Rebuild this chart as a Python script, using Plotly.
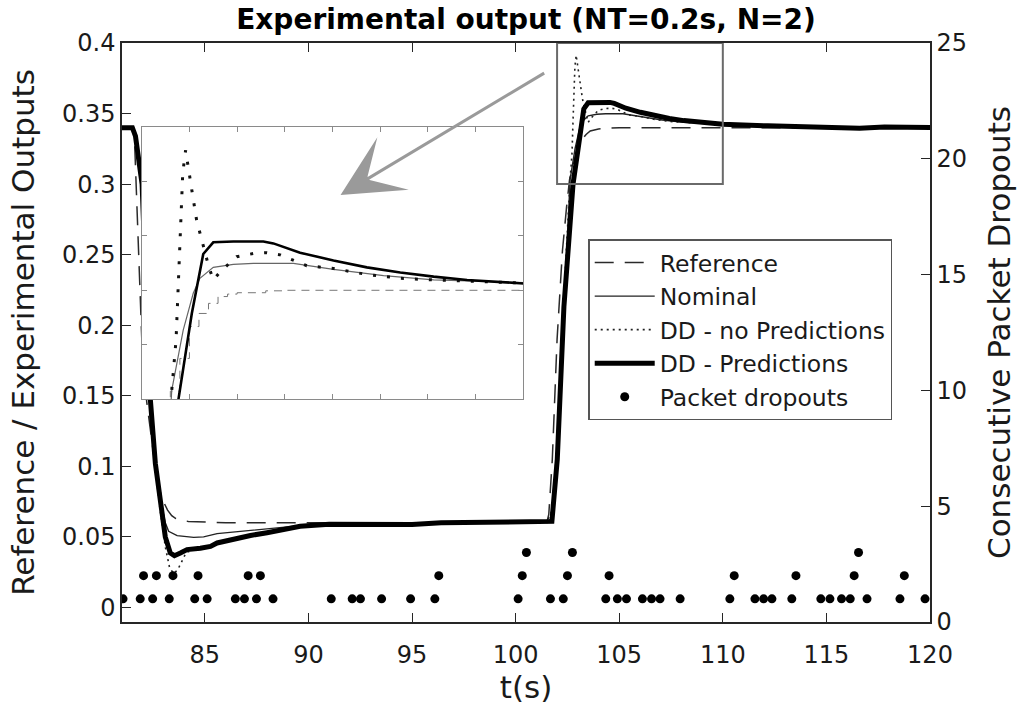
import plotly.graph_objects as go

# ---------------- data ----------------
ref_t = [81.0, 81.55, 81.6, 81.7, 81.8, 81.9, 82.0, 82.2, 82.4, 82.6, 82.8, 83.0, 83.2, 83.4,
         83.6, 83.8, 84.2, 85.0, 86.0, 90.0, 95.0, 100.0, 101.5, 101.6, 101.77, 102.0, 102.26,
         102.46, 102.6, 102.8, 103.0, 103.2, 103.4, 103.6, 103.8, 104.0, 104.6, 105.0, 110.0, 120.0]
ref_y = [0.340, 0.340, 0.333, 0.290, 0.250, 0.205, 0.172, 0.145, 0.122, 0.100, 0.084, 0.075,
         0.069, 0.065, 0.063, 0.062, 0.061, 0.0605, 0.060, 0.060, 0.060, 0.060, 0.060, 0.066,
         0.105, 0.190, 0.253, 0.284, 0.303, 0.315, 0.3267, 0.3315, 0.3352, 0.3377, 0.3386,
         0.3391, 0.3398, 0.340, 0.340, 0.340]

nom_t = [81.0, 81.5, 81.65, 81.8, 81.97, 82.37, 82.61, 82.85, 83.09, 83.25, 83.66, 84.46, 84.94,
         85.59, 87.2, 89.6, 91.0, 93.0, 95.0, 96.4, 98.5, 101.5, 101.75, 102.01, 102.33, 102.63,
         102.87, 103.08, 103.22, 103.5, 103.92, 104.34, 105.18, 106.02, 107.07, 108.12, 110.0,
         112.16, 115.38, 116.6, 117.8, 120.0]
nom_y = [0.340, 0.340, 0.333, 0.316, 0.298, 0.150, 0.104, 0.077, 0.060, 0.054, 0.0509, 0.0497,
         0.0500, 0.0523, 0.0546, 0.0580, 0.0590, 0.0589, 0.0588, 0.0600, 0.0605, 0.0605, 0.063,
         0.110, 0.215, 0.3034, 0.3254, 0.3389, 0.3444, 0.3484, 0.3495, 0.3499, 0.3499, 0.3477,
         0.3454, 0.3438, 0.3425, 0.3413, 0.3402, 0.3396, 0.3404, 0.3401]

ddnp_t = [81.0, 81.5, 81.65, 81.8, 81.97, 82.37, 82.61, 82.85, 83.09, 83.3, 83.5, 83.7, 83.9,
          84.1, 84.5, 85.3, 86.4, 88.0, 89.6, 91.0, 93.0, 95.0, 96.4, 98.5, 101.5, 101.8, 102.1,
          102.4, 102.63, 102.72, 102.77, 102.82, 102.86, 102.92, 102.98, 103.05, 103.15, 103.22,
          103.29, 103.4, 103.5, 103.68, 103.99, 104.34, 104.62, 104.9, 105.46, 106.02, 106.72,
          107.42, 108.12, 108.82, 110.0, 112.16, 115.38, 116.6, 117.8, 120.0]
ddnp_y = [0.340, 0.340, 0.333, 0.316, 0.298, 0.145, 0.098, 0.068, 0.043, 0.028, 0.024, 0.027,
          0.033, 0.039, 0.041, 0.0435, 0.049, 0.0535, 0.0578, 0.0590, 0.0589, 0.0588, 0.0600,
          0.0605, 0.0605, 0.070, 0.140, 0.240, 0.3034, 0.3218, 0.345, 0.3664, 0.3829, 0.3914,
          0.3853, 0.3768, 0.3658, 0.3609, 0.356, 0.349, 0.3438, 0.3474, 0.3523, 0.3535, 0.3538,
          0.353, 0.349, 0.348, 0.3458, 0.3444, 0.3438, 0.3432, 0.3423, 0.3413, 0.3402, 0.3396,
          0.3404, 0.3401]

ddp_t = [81.0, 81.5, 81.65, 81.8, 81.97, 82.2, 82.37, 82.61, 82.85, 83.09, 83.33, 83.53, 83.82,
         84.14, 84.78, 85.27, 85.59, 86.39, 87.2, 88.0, 89.6, 91.0, 93.0, 95.0, 96.4, 98.5, 101.5,
         101.75, 102.01, 102.33, 102.77, 103.05, 103.29, 103.5, 103.92, 104.55, 104.76, 105.32,
         106.02, 106.72, 107.42, 108.12, 108.82, 110.0, 112.16, 115.38, 116.6, 117.8, 120.0]
ddp_y = [0.340, 0.340, 0.334, 0.318, 0.300, 0.210, 0.147, 0.102, 0.074, 0.050, 0.0386, 0.0367,
         0.0386, 0.041, 0.042, 0.0433, 0.0457, 0.0485, 0.051, 0.053, 0.0575, 0.0590, 0.0589,
         0.0588, 0.0600, 0.0605, 0.0605, 0.061, 0.105, 0.213, 0.300, 0.3315, 0.3533, 0.3576,
         0.3579, 0.3579, 0.3572, 0.3538, 0.3509, 0.3484, 0.3465, 0.3450, 0.3438, 0.3425, 0.3413,
         0.3402, 0.3396, 0.3404, 0.3401]

drop_t = [81.05, 81.88, 82.48, 83.28, 84.51, 85.11, 86.47, 86.91, 87.49, 88.29, 91.10, 92.11,
          92.51, 93.53, 94.93, 96.10, 100.12, 101.68, 102.30, 104.35, 104.91, 105.35, 106.12,
          106.56, 106.97, 107.94, 110.34, 111.55, 111.97, 112.37, 113.33, 114.73, 115.17, 115.73,
          116.15, 116.96, 118.55, 119.76,
          82.04, 82.66, 83.46, 84.67, 87.09, 87.68, 96.29, 100.32, 102.50, 104.51, 110.55, 113.53,
          116.34, 118.76,
          100.52, 102.74, 116.55]
drop_n = [1] * 38 + [2] * 14 + [3] * 3

x_ticks = [85, 90, 95, 100, 105, 110, 115, 120]
y_ticks = [0, 0.05, 0.1, 0.15, 0.2, 0.25, 0.3, 0.35, 0.4]
y_tick_text = ["0", "0.05", "0.1", "0.15", "0.2", "0.25", "0.3", "0.35", "0.4"]
y3_ticks = [0, 5, 10, 15, 20, 25]

inset_x_ticks = [102, 103, 104, 105, 106, 107, 108, 109, 110]
inset_y_ticks = [0.30, 0.32, 0.34, 0.36, 0.38, 0.40]

# ---------------- figure ----------------
FONT = "DejaVu Sans"
INK = "#1a1a1a"
fig = go.Figure()

# main traces
fig.add_trace(go.Scatter(x=ref_t, y=ref_y, mode="lines", name="Reference",
                         line=dict(color="#2a2a2a", width=1.5, dash="19px,11px"),
                         xaxis="x", yaxis="y"))
fig.add_trace(go.Scatter(x=nom_t, y=nom_y, mode="lines", name="Nominal",
                         line=dict(color="#222222", width=1.4), xaxis="x", yaxis="y"))
fig.add_trace(go.Scatter(x=ddnp_t, y=ddnp_y, mode="lines", name="DD - no Predictions",
                         line=dict(color="#222222", width=1.6, dash="2px,4px"),
                         xaxis="x", yaxis="y"))
fig.add_trace(go.Scatter(x=ddp_t, y=ddp_y, mode="lines", name="DD - Predictions",
                         line=dict(color="#000000", width=5), xaxis="x", yaxis="y"))
fig.add_trace(go.Scatter(x=drop_t, y=drop_n, mode="markers", name="Packet dropouts",
                         marker=dict(color="#000000", size=9, line=dict(width=0)),
                         xaxis="x", yaxis="y3"))

# inset traces
fig.add_trace(go.Scatter(x=ref_t, y=ref_y, mode="lines", showlegend=False, line_shape="hv",
                         line=dict(color="#777777", width=1, dash="8px,6px"),
                         xaxis="x2", yaxis="y2"))
fig.add_trace(go.Scatter(x=nom_t, y=nom_y, mode="lines", showlegend=False,
                         line=dict(color="#666666", width=1.2), xaxis="x2", yaxis="y2"))
fig.add_trace(go.Scatter(x=ddnp_t, y=ddnp_y, mode="lines", showlegend=False,
                         line=dict(color="#111111", width=3, dash="3px,11px"),
                         xaxis="x2", yaxis="y2"))
fig.add_trace(go.Scatter(x=ddp_t, y=ddp_y, mode="lines", showlegend=False,
                         line=dict(color="#000000", width=2.6), xaxis="x2", yaxis="y2"))

# zoom box on the main plot
fig.add_shape(type="rect", xref="x", yref="y", x0=inset_x_ticks[0], x1=inset_x_ticks[-1],
              y0=inset_y_ticks[0], y1=inset_y_ticks[-1],
              line=dict(color="#6a6a6a", width=2), layer="above")

# arrow from the zoom box to the inset
fig.add_annotation(x=91.55, y=0.2923, ax=101.45, ay=0.3793, xref="x", yref="y",
                   axref="x", ayref="y", showarrow=True, arrowhead=3, arrowsize=3.4,
                   arrowwidth=3, arrowcolor="#9a9a9a", text="")

tickfont = dict(family=FONT, size=24, color=INK)
titlefont = dict(family=FONT, size=31, color=INK)

fig.update_layout(
    width=1022, height=706,
    margin=dict(l=122, r=92, t=43, b=84),
    paper_bgcolor="white", plot_bgcolor="white",
    font=dict(family=FONT, color=INK),
    title=dict(text="<b>Experimental output (NT=0.2s, N=2)</b>",
               font=dict(family=FONT, size=28, color="#000000"),
               x=0.5, xref="paper", xanchor="center",
               y=1 - 19 / 706, yref="container", yanchor="middle"),
    showlegend=True,
    legend=dict(x=0.577, y=0.661, xanchor="left", yanchor="top",
                bgcolor="white", bordercolor="#555555", borderwidth=1.5,
                font=dict(family=FONT, size=23.5, color=INK),
                itemwidth=60, tracegroupgap=0),
    xaxis=dict(domain=[0, 1], range=[81, 120], tickvals=x_ticks,
               showline=True, linecolor="#262626", linewidth=1.5, mirror="ticks",
               ticks="inside", ticklen=9, tickcolor="#262626", tickwidth=1.2,
               ticklabelstandoff=10,
               showgrid=False, zeroline=False, tickfont=tickfont,
               title=dict(text="t(s)", font=titlefont, standoff=2)),
    yaxis=dict(domain=[0, 1], range=[-0.0103, 0.4], tickvals=y_ticks, ticktext=y_tick_text,
               showline=True, linecolor="#262626", linewidth=1.5, mirror=False,
               ticks="inside", ticklen=9, tickcolor="#262626", tickwidth=1.2,
               showgrid=False, zeroline=False, tickfont=tickfont,
               title=dict(text="Reference / Experimental Outputs", font=titlefont, standoff=18)),
    yaxis3=dict(range=[0, 25], tickvals=y3_ticks, overlaying="y", side="right", anchor="x",
                showline=True, linecolor="#262626", linewidth=1.5,
                ticks="inside", ticklen=9, tickcolor="#262626", tickwidth=1.2,
                showgrid=False, zeroline=False, tickfont=tickfont,
                title=dict(text="Consecutive Packet Dropouts", font=titlefont, standoff=22)),
    xaxis2=dict(domain=[0.0244, 0.4967], range=[inset_x_ticks[0], inset_x_ticks[-1]],
                tickvals=inset_x_ticks, anchor="y2",
                showline=True, linecolor="#8a8a8a", linewidth=1, mirror="ticks",
                ticks="inside", ticklen=5, tickcolor="#8a8a8a", tickwidth=1,
                showticklabels=False, showgrid=False, zeroline=False),
    yaxis2=dict(domain=[0.3846, 0.8554], range=[inset_y_ticks[0], inset_y_ticks[-1]],
                tickvals=inset_y_ticks, anchor="x2",
                showline=True, linecolor="#8a8a8a", linewidth=1, mirror="ticks",
                ticks="inside", ticklen=5, tickcolor="#8a8a8a", tickwidth=1,
                showticklabels=False, showgrid=False, zeroline=False),
)

fig.write_html("out.html")
